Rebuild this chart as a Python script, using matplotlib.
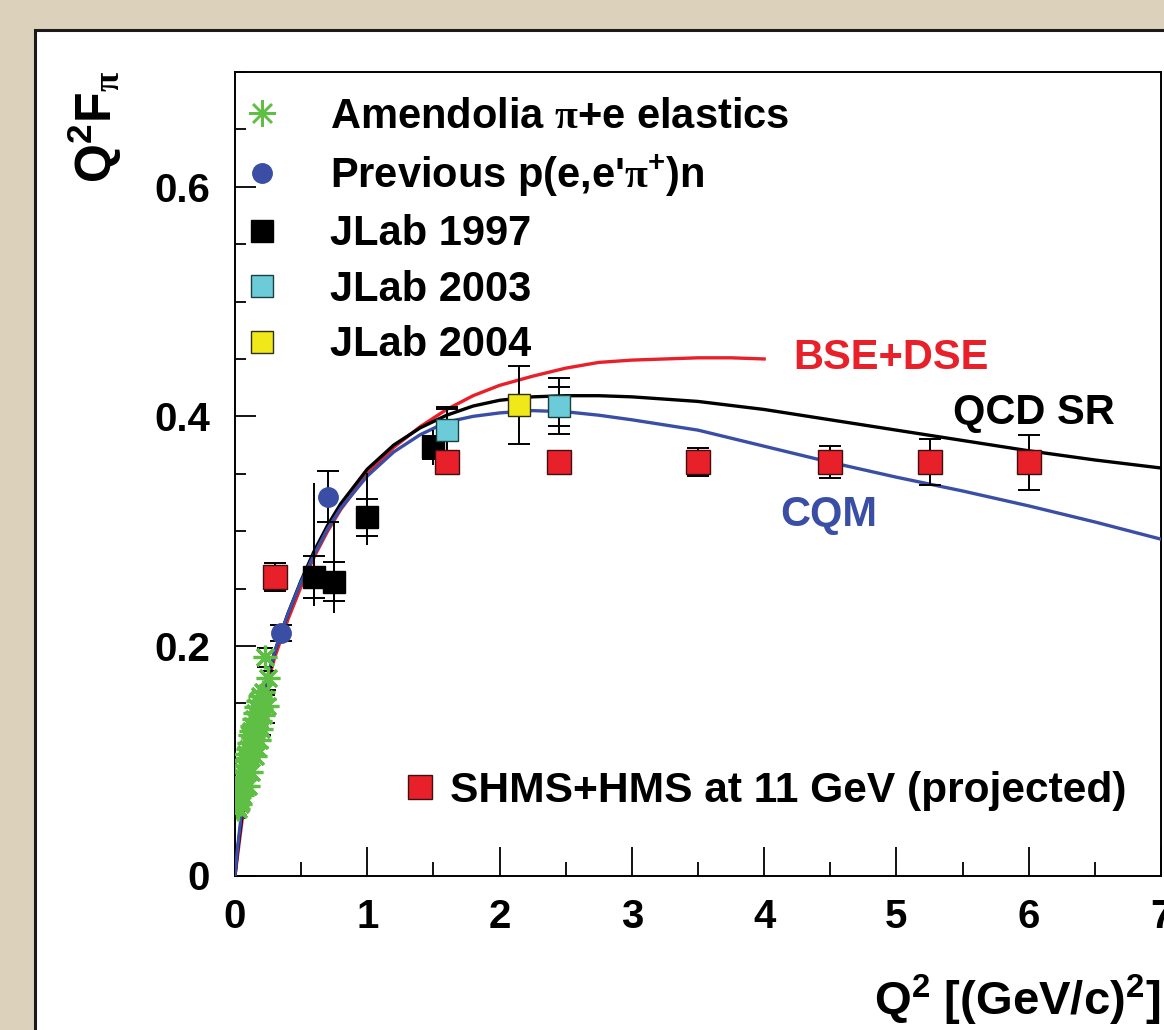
import matplotlib
matplotlib.use("Agg")
import matplotlib.pyplot as plt
from matplotlib.patches import Rectangle
from matplotlib.lines import Line2D
from matplotlib.ticker import MultipleLocator, FixedLocator, FixedFormatter

plt.rcParams['font.family'] = ['Liberation Sans', 'DejaVu Sans']
plt.rcParams['font.weight'] = 'bold'
plt.rcParams['mathtext.fontset'] = 'custom'
plt.rcParams['mathtext.rm'] = 'Liberation Serif'
plt.rcParams['mathtext.bf'] = 'Liberation Sans:bold'

# Amendolia pi+e elastics (green asterisks)
amen_q2 = [0.012, 0.018, 0.02, 0.025, 0.03, 0.035, 0.04, 0.045, 0.05, 0.055, 0.06, 0.065,
           0.07, 0.075, 0.08, 0.085, 0.09, 0.095, 0.10, 0.10, 0.105, 0.11, 0.115, 0.12,
           0.12, 0.125, 0.13, 0.135, 0.14, 0.145, 0.15, 0.15, 0.155, 0.16, 0.17, 0.175,
           0.18, 0.18, 0.19, 0.20, 0.20, 0.21, 0.215, 0.22, 0.23, 0.24, 0.25, 0.16, 0.19]
amen_f = [0.066, 0.060, 0.072, 0.058, 0.068, 0.080, 0.062, 0.074, 0.086, 0.070, 0.090,
          0.078, 0.095, 0.084, 0.100, 0.106, 0.090, 0.110, 0.102, 0.078, 0.115, 0.122,
          0.106, 0.126, 0.090, 0.116, 0.130, 0.120, 0.136, 0.126, 0.142, 0.104, 0.130,
          0.147, 0.136, 0.152, 0.142, 0.118, 0.156, 0.146, 0.128, 0.160, 0.140, 0.154,
          0.190, 0.148, 0.172, 0.112, 0.135]
amen_err_q2 = [0.23, 0.25, 0.24, 0.215]
amen_err_f = [0.190, 0.170, 0.145, 0.132]
amen_err = [0.008, 0.008, 0.012, 0.010]

# Previous p(e,e'pi+)n (blue circles)
prev_q2 = [0.35, 0.70]
prev_f = [0.211, 0.330]
prev_err = [0.007, 0.022]

# JLab 1997 (black squares)
j97_q2 = [0.60, 0.75, 1.00, 1.50]
j97_f = [0.260, 0.256, 0.312, 0.373]
j97_stat = [0.018, 0.017, 0.016, 0.010]
j97_lo = [0.025, 0.027, 0.024, 0.015]
j97_hi = [0.082, 0.051, 0.039, 0.015]

# JLab 2003 (cyan squares)
j03_q2 = [1.60, 2.45]
j03_f = [0.388, 0.409]
j03_stat = [0.018, 0.017]
j03_tot = [0.020, 0.024]

# JLab 2004 (yellow square)
j04_q2 = [2.15]
j04_f = [0.410]
j04_err = [0.034]

# SHMS+HMS at 11 GeV projected (red squares)
proj_q2 = [0.30, 1.60, 2.45, 3.50, 4.50, 5.25, 6.00]
proj_f = [0.260, 0.360, 0.360, 0.360, 0.360, 0.360, 0.360]
proj_err = [0.012, 0.010, 0.008, 0.012, 0.014, 0.020, 0.024]

# model curves
curve_q2 = [0, 0.02, 0.05, 0.1, 0.15, 0.2, 0.3, 0.4, 0.5, 0.6, 0.7, 0.8, 1.0, 1.2, 1.4,
            1.6, 1.8, 2.0, 2.25, 2.5, 2.75, 3.0, 3.5, 4.0, 4.5, 5.0, 5.5, 6.0, 6.5, 7.0]
cqm = [0, 0.025, 0.055, 0.095, 0.130, 0.155, 0.195, 0.228, 0.256, 0.280, 0.302, 0.320,
       0.348, 0.369, 0.384, 0.395, 0.400, 0.403, 0.405, 0.404, 0.401, 0.397, 0.388,
       0.374, 0.360, 0.347, 0.335, 0.322, 0.308, 0.293]
qcdsr = [0, 0.022, 0.050, 0.090, 0.125, 0.152, 0.195, 0.228, 0.257, 0.283, 0.305, 0.324,
         0.354, 0.375, 0.390, 0.401, 0.409, 0.414, 0.417, 0.418, 0.418, 0.417, 0.413,
         0.406, 0.397, 0.388, 0.379, 0.370, 0.362, 0.355]
bse_q2 = [0, 0.02, 0.05, 0.1, 0.15, 0.2, 0.3, 0.4, 0.5, 0.6, 0.7, 0.8, 1.0, 1.2, 1.4,
          1.6, 1.8, 2.0, 2.25, 2.5, 2.75, 3.0, 3.25, 3.5, 3.75, 4.0]
bse = [0, 0.018, 0.045, 0.085, 0.120, 0.148, 0.190, 0.223, 0.252, 0.278, 0.300, 0.319,
       0.350, 0.373, 0.391, 0.406, 0.418, 0.427, 0.435, 0.442, 0.447, 0.449, 0.450,
       0.451, 0.451, 0.450]

GREEN = '#5fbf45'
BLUE = '#3a4ea6'
RED = '#e8202a'
CYAN = '#6ccbd9'
YELLOW = '#f0e818'
FS = 30

fig = plt.figure(figsize=(11.64, 10.30), dpi=100, facecolor='#dcd2bc')
fig.patches.append(Rectangle((35 / 1164, -0.1), 1.2, 1.1 - 30 / 1030,
                             transform=fig.transFigure, facecolor='white',
                             edgecolor='#1a1a1a', linewidth=2.2, zorder=-5))
ax = fig.add_axes([235 / 1164, 154.5 / 1030, 926 / 1164, 803.5 / 1030])
ax.set_zorder(2)
ax.set_facecolor('white')

# curves
ax.plot(bse_q2, bse, color=RED, lw=2.4, zorder=3)
ax.plot(curve_q2, qcdsr, color='black', lw=2.4, zorder=3)
ax.plot(curve_q2, cqm, color=BLUE, lw=2.4, zorder=3)

ebk = dict(fmt='none', ecolor='black', elinewidth=1.4, zorder=4)

ax.errorbar(amen_err_q2, amen_err_f, yerr=amen_err, capsize=6, capthick=1.4, **ebk)
ax.plot(amen_q2, amen_f, ls='none', marker=(8, 2, 0), ms=17, mew=2.3,
        color=GREEN, zorder=5)

ax.errorbar(prev_q2, prev_f, yerr=prev_err, capsize=8, capthick=1.4, **ebk)
h_prev, = ax.plot(prev_q2, prev_f, ls='none', marker='o', ms=14, color=BLUE, zorder=6,
                  label=r"Previous p(e,e'$\mathrm{\pi}^{\mathbf{+}}$)n")

ax.errorbar(j97_q2, j97_f, yerr=[j97_lo, j97_hi], capsize=0, **ebk)
ax.errorbar(j97_q2, j97_f, yerr=j97_stat, capsize=8, capthick=1.4, **ebk)
h_j97, = ax.plot(j97_q2, j97_f, ls='none', marker='s', ms=16, color='black', zorder=6,
                 label='JLab 1997')

ax.errorbar(j03_q2, j03_f, yerr=j03_tot, capsize=8, capthick=1.4, **ebk)
ax.errorbar(j03_q2, j03_f, yerr=j03_stat, capsize=8, capthick=1.4, **ebk)
h_j03, = ax.plot(j03_q2, j03_f, ls='none', marker='s', ms=16, mfc=CYAN, mec='#1a4040',
                 mew=1.0, zorder=6, label='JLab 2003')

ax.errorbar(j04_q2, j04_f, yerr=j04_err, capsize=8, capthick=1.4, **ebk)
h_j04, = ax.plot(j04_q2, j04_f, ls='none', marker='s', ms=16, mfc=YELLOW, mec='#303010',
                 mew=1.0, zorder=6, label='JLab 2004')

ax.errorbar(proj_q2, proj_f, yerr=proj_err, capsize=8, capthick=1.4, **ebk)
h_proj, = ax.plot(proj_q2, proj_f, ls='none', marker='s', ms=17, mfc=RED, mec='#401010',
                  mew=1.0, zorder=7, label='SHMS+HMS at 11 GeV (projected)')

# legend proxy for the asterisks (drawn larger in the key)
h_amen = Line2D([], [], ls='none', marker=(8, 2, 0), ms=19, mew=1.8, color=GREEN,
                label=r'Amendolia $\mathrm{\pi}$+e elastics')

# axes
ax.set_xlim(0, 7)
ax.set_ylim(0, 0.7)
ax.xaxis.set_major_locator(FixedLocator([0, 1, 2, 3, 4, 5, 6, 7]))
ax.xaxis.set_major_formatter(FixedFormatter(['0', '1', '2', '3', '4', '5', '6', '7']))
ax.xaxis.set_minor_locator(MultipleLocator(0.5))
ax.yaxis.set_major_locator(FixedLocator([0, 0.2, 0.4, 0.6]))
ax.yaxis.set_major_formatter(FixedFormatter(['0', '0.2', '0.4', '0.6']))
ax.yaxis.set_minor_locator(MultipleLocator(0.05))
ax.tick_params(which='both', direction='in', width=1.3, labelsize=29)
ax.tick_params(axis='x', which='major', length=21, pad=16)
ax.tick_params(axis='x', which='minor', length=10)
ax.tick_params(axis='y', which='major', length=15, pad=18)
ax.tick_params(axis='y', which='minor', length=8)
for lab in ax.get_xticklabels() + ax.get_yticklabels():
    lab.set_fontweight('bold')
for sp in ax.spines.values():
    sp.set_linewidth(1.4)

leg1 = ax.legend(handles=[h_amen, h_prev, h_j97, h_j03, h_j04], loc='upper left',
                 bbox_to_anchor=(0.0065, 0.969), frameon=False,
                 handlelength=1.0, handletextpad=1.13, labelspacing=0.37,
                 borderaxespad=0, borderpad=0, numpoints=1,
                 prop={'weight': 'bold', 'size': FS})
ax.add_artist(leg1)
ax.legend(handles=[h_proj], loc='center left', bbox_to_anchor=(0.177, 0.105),
          frameon=False, handlelength=1.0, handletextpad=0.2, numpoints=1,
          borderaxespad=0, borderpad=0, prop={'weight': 'bold', 'size': 30.6})

ax.text(4.22, 0.451, 'BSE+DSE', color=RED, fontsize=FS, fontweight='bold', va='center')
ax.text(5.43, 0.403, 'QCD SR', color='black', fontsize=FS, fontweight='bold', va='center')
ax.text(4.12, 0.314, 'CQM', color=BLUE, fontsize=FS, fontweight='bold', va='center')

fig.text(95 / 1164, 1 - 127 / 1030, r'$\mathbf{Q}^{\mathbf{2}}\mathbf{F}_{\mathrm{\pi}}$',
         rotation=90, fontsize=36, ha='center', va='center')
fig.text(1160 / 1164, 1 - 1000 / 1030, r'Q$^{\mathbf{2}}$ [(GeV/c)$^{\mathbf{2}}$]',
         fontsize=34, fontweight='bold', ha='right', va='center')

fig.savefig('out.png', dpi=100, facecolor=fig.get_facecolor())
